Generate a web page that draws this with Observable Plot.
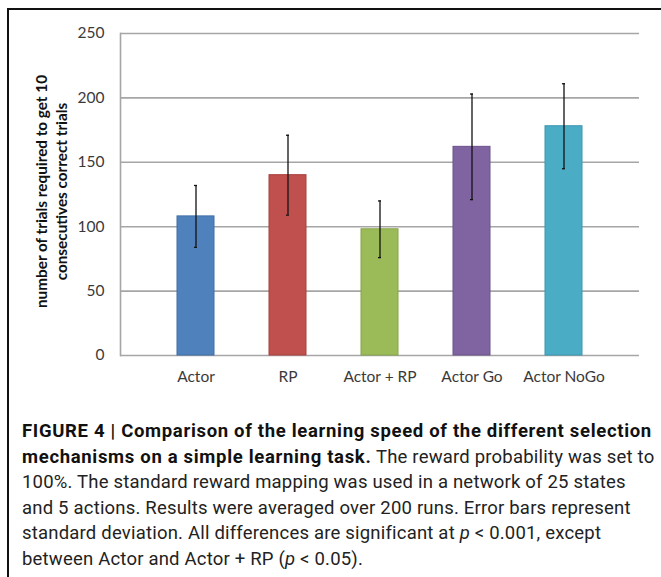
<!DOCTYPE html>
<html>
<head>
<meta charset="utf-8">
<script src="https://cdn.jsdelivr.net/npm/d3@7"></script>
<script src="https://cdn.jsdelivr.net/npm/@observablehq/plot@0.6"></script>
<style>
  html, body { margin: 0; padding: 0; background: #fff; }
  body { width: 661px; height: 577px; position: relative; overflow: hidden; }
  #frame {
    position: absolute; left: 7px; top: 8px; width: 700px; height: 620px;
    border-left: 2px solid #111; border-top: 2px solid #111;
  }
  #chart { position: absolute; left: 0; top: 0; }
  #caption {
    position: absolute; left: 22px; top: 419px;
    font-family: Roboto, "Liberation Sans", sans-serif;
    font-size: 18.5px; line-height: 25.6px; color: #222; letter-spacing: 0.2px;
  }
  #caption div { white-space: nowrap; }
  #caption b { color: #111; letter-spacing: 0.68px; }
</style>
</head>
<body>
<div id="frame"></div>
<div id="chart"></div>
<div id="caption">
  <div><b>FIGURE 4 | Comparison of the learning speed of the different selection</b></div>
  <div><b>mechanisms on a simple learning task.</b> The reward probability was set to</div>
  <div>100%. The standard reward mapping was used in a network of 25 states</div>
  <div>and 5 actions. Results were averaged over 200 runs. Error bars represent</div>
  <div>standard deviation. All differences are significant at <i>p</i> &lt; 0.001, except</div>
  <div>between Actor and Actor + RP (<i>p</i> &lt; 0.05).</div>
</div>
<script>
// Mean number of trials needed per selection mechanism, with standard deviation
const mechanisms = ["Actor", "RP", "Actor + RP", "Actor Go", "Actor NoGo"];
const meanTrials = [108, 140, 98, 162, 178];
const sdTrials = [24, 31, 22, 41, 33];
const barColors = ["#4f81bd", "#c0504d", "#9bbb59", "#8064a2", "#4bacc6"];
const edgeColors = ["#3f6fa6", "#a8403d", "#86a44a", "#6c528c", "#3b97b0"];
const yTicks = [0, 50, 100, 150, 200, 250];
const yLabel = "number of trials required to get 10\nconsecutives correct trials";

const rows = mechanisms.map((name, i) => ({
  name, mean: meanTrials[i], sd: sdTrials[i],
  lo: meanTrials[i] - sdTrials[i], hi: meanTrials[i] + sdTrials[i]
}));

const chart = Plot.plot({
  width: 661,
  height: 400,
  marginLeft: 120,
  marginRight: 22,
  marginTop: 33,
  marginBottom: 45,
  style: { fontFamily: "Lato, 'Open Sans', sans-serif", fontSize: "15.5px", color: "#3a3a3a", background: "transparent" },
  x: { domain: mechanisms, padding: 0.595, label: null, tickSize: 0, tickPadding: 15 },
  y: { domain: [0, 250], ticks: yTicks, label: null, tickSize: 0, tickPadding: 16 },
  color: { domain: mechanisms, range: barColors },
  marks: [
    Plot.gridY(yTicks, { stroke: "#a6a6a6", strokeOpacity: 1, strokeWidth: 1.6 }),
    Plot.frame({ anchor: "left", stroke: "#a6a6a6", strokeWidth: 1.6 }),
    Plot.barY(rows, { x: "name", y: "mean", fill: "name", stroke: (d) => edgeColors[mechanisms.indexOf(d.name)], strokeWidth: 1 }),
    Plot.ruleX(rows, { x: "name", y1: "lo", y2: "hi", stroke: "#111", strokeWidth: 1.3 }),
    Plot.tickY(rows, { x: "name", y: "lo", stroke: "#111", strokeWidth: 1.3, insetLeft: 17, insetRight: 17 }),
    Plot.tickY(rows, { x: "name", y: "hi", stroke: "#111", strokeWidth: 1.3, insetLeft: 17, insetRight: 17 }),
    Plot.text([yLabel], {
      text: (d) => d, frameAnchor: "left", rotate: -90, dx: -70, dy: -3,
      textAnchor: "middle", lineAnchor: "middle", lineHeight: 1.3,
      fontWeight: "bold", fontSize: 15.3, fill: "#111"
    })
  ]
});
document.getElementById("chart").appendChild(chart);
</script>
</body>
</html>
